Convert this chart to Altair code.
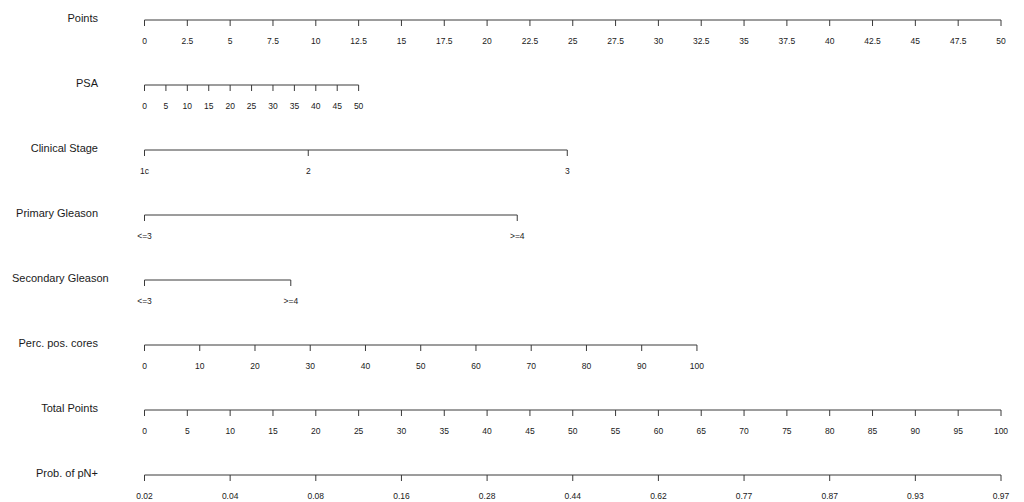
import altair as alt
import pandas as pd

# Row titles (top to bottom)
titles = ["Points", "PSA", "Clinical Stage", "Primary Gleason", "Secondary Gleason",
          "Perc. pos. cores", "Total Points", "Prob. of pN+"]

# Tick labels and their positions on the Points scale (0-50)
points_labels = ["0", "2.5", "5", "7.5", "10", "12.5", "15", "17.5", "20", "22.5", "25",
                 "27.5", "30", "32.5", "35", "37.5", "40", "42.5", "45", "47.5", "50"]
points_pos = [0, 2.5, 5, 7.5, 10, 12.5, 15, 17.5, 20, 22.5, 25,
              27.5, 30, 32.5, 35, 37.5, 40, 42.5, 45, 47.5, 50]

psa_labels = ["0", "5", "10", "15", "20", "25", "30", "35", "40", "45", "50"]
psa_pos = [0, 1.25, 2.5, 3.75, 5, 6.25, 7.5, 8.75, 10, 11.25, 12.5]

stage_labels = ["1c", "2", "3"]
stage_pos = [0, 9.56, 24.68]

primary_labels = ["<=3", ">=4"]
primary_pos = [0, 21.76]

secondary_labels = ["<=3", ">=4"]
secondary_pos = [0, 8.54]

cores_labels = ["0", "10", "20", "30", "40", "50", "60", "70", "80", "90", "100"]
cores_pos = [0, 3.225, 6.45, 9.675, 12.9, 16.125, 19.35, 22.575, 25.8, 29.025, 32.25]

total_labels = ["0", "5", "10", "15", "20", "25", "30", "35", "40", "45", "50",
                "55", "60", "65", "70", "75", "80", "85", "90", "95", "100"]
total_pos = [0, 5, 10, 15, 20, 25, 30, 35, 40, 45, 50,
             55, 60, 65, 70, 75, 80, 85, 90, 95, 100]  # on Total Points scale (0-100)

prob_labels = ["0.02", "0.04", "0.08", "0.16", "0.28", "0.44", "0.62", "0.77", "0.87", "0.93", "0.97"]
prob_total_pos = [0, 10, 20, 30, 40, 50, 60, 70, 80, 90, 100]  # on Total Points scale

# Total Points (0-100) share the Points axis length (0-50)
TOTAL_TO_POINTS = 0.5

row_data = [
    (points_labels, points_pos),
    (psa_labels, psa_pos),
    (stage_labels, stage_pos),
    (primary_labels, primary_pos),
    (secondary_labels, secondary_pos),
    (cores_labels, cores_pos),
    (total_labels, [p * TOTAL_TO_POINTS for p in total_pos]),
    (prob_labels, [p * TOTAL_TO_POINTS for p in prob_total_pos]),
]

ROW_SPACING_PX = 65.0
TICK_LEN_PX = 6.0

tick_rows = []
line_rows = []
for i, (labs, poss) in enumerate(row_data):
    line_rows.append({"row": i, "title": titles[i], "start": min(poss), "end": max(poss),
                      "wide": len(titles[i]) > 16})
    for lab, p in zip(labs, poss):
        tick_rows.append({"row": i, "row_end": i + TICK_LEN_PX / ROW_SPACING_PX,
                          "pos": p, "label": lab})

lines_df = pd.DataFrame(line_rows)
ticks_df = pd.DataFrame(tick_rows)

xscale = alt.Scale(domain=[0, 50], range=[136.5, 993], nice=False, zero=False)
yscale = alt.Scale(domain=[0, 7], range=[12, 467], nice=False, zero=False)

FONT = "Liberation Sans"
LINE_COLOR = "#3a3a3a"
TEXT_COLOR = "#1a1a1a"

axis_lines = alt.Chart(lines_df).mark_rule(color=LINE_COLOR, strokeWidth=1).encode(
    x=alt.X("start:Q", scale=xscale, axis=None),
    x2="end:Q",
    y=alt.Y("row:Q", scale=yscale, axis=None),
)

tick_marks = alt.Chart(ticks_df).mark_rule(color=LINE_COLOR, strokeWidth=1).encode(
    x=alt.X("pos:Q", scale=xscale, axis=None),
    y=alt.Y("row:Q", scale=yscale, axis=None),
    y2="row_end:Q",
)

tick_labels = alt.Chart(ticks_df).mark_text(
    font=FONT, fontSize=8.5, color=TEXT_COLOR, align="center", baseline="middle", dy=21
).encode(
    x=alt.X("pos:Q", scale=xscale, axis=None),
    y=alt.Y("row:Q", scale=yscale, axis=None),
    text="label:N",
)

row_titles = alt.Chart(lines_df).transform_filter("!datum.wide").mark_text(
    font=FONT, fontSize=11, color=TEXT_COLOR, align="right", baseline="middle", dy=-1
).encode(
    x=alt.value(90),
    y=alt.Y("row:Q", scale=yscale, axis=None),
    text="title:N",
)

wide_titles = alt.Chart(lines_df).transform_filter("datum.wide").mark_text(
    font=FONT, fontSize=11, color=TEXT_COLOR, align="left", baseline="middle", dy=-1
).encode(
    x=alt.value(4),
    y=alt.Y("row:Q", scale=yscale, axis=None),
    text="title:N",
)

chart = alt.layer(axis_lines, tick_marks, tick_labels, row_titles, wide_titles).properties(
    width=1008, height=494, padding=0, autosize=alt.AutoSizeParams(type="none"),
    background="white",
).configure_view(stroke=None)

chart.save("out.html", embed_options={"renderer": "svg", "actions": False})
